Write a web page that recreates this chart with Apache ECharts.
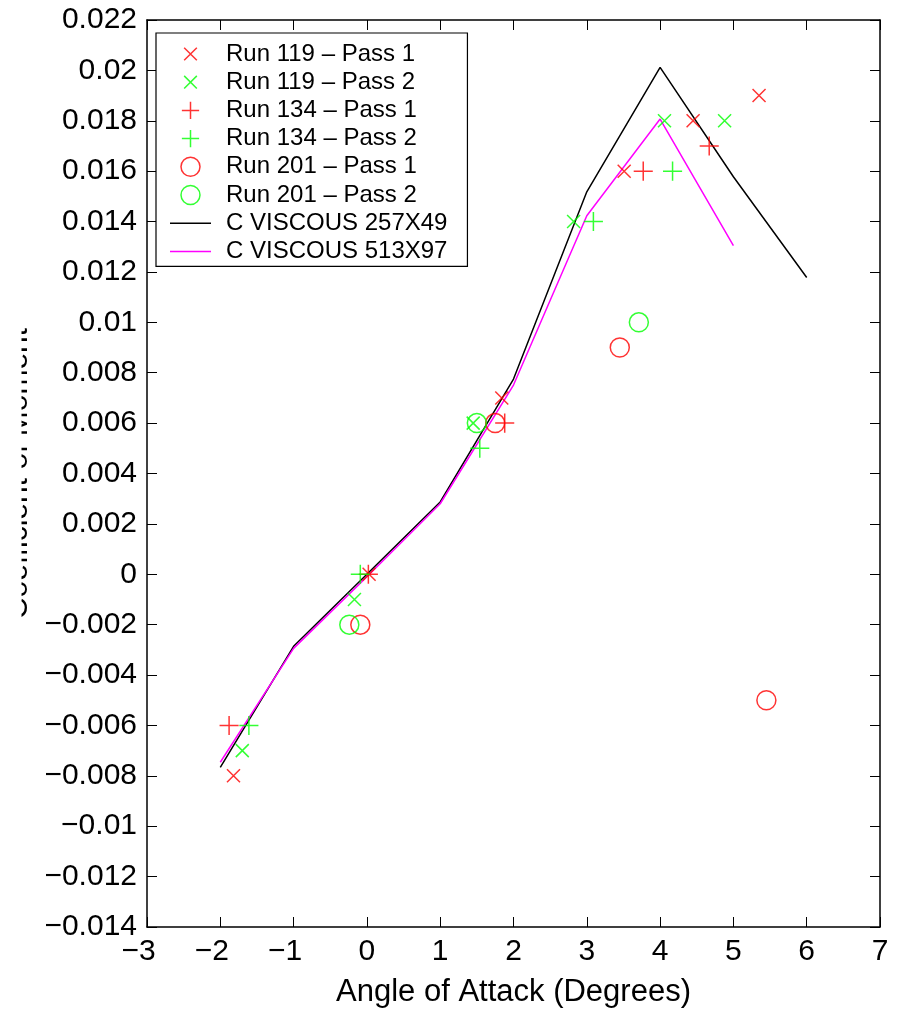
<!DOCTYPE html>
<html>
<head>
<meta charset="utf-8">
<script src="https://cdn.jsdelivr.net/npm/echarts@6/dist/echarts.min.js"></script>
<style>
  html, body { margin: 0; padding: 0; background: #fff; }
  #chart { width: 900px; height: 1009px; }
</style>
</head>
<body>
<div id="chart"></div>
<script>
// Measured moment coefficient vs angle of attack, [angle, Cm]
const run119Pass1 = [[-1.82, -0.008], [0.03, 0.0], [1.84, 0.007], [3.51, 0.016], [4.45, 0.018], [5.35, 0.019]];
const run119Pass2 = [[-1.70, -0.007], [-0.17, -0.001], [1.45, 0.006], [2.82, 0.014], [4.06, 0.018], [4.88, 0.018]];
const run134Pass1 = [[-1.88, -0.006], [0.02, 0.0], [1.88, 0.006], [3.77, 0.016], [4.67, 0.017]];
const run134Pass2 = [[-1.61, -0.006], [-0.09, 0.0], [1.54, 0.005], [3.09, 0.014], [4.17, 0.016]];
const run201Pass1 = [[-0.09, -0.002], [1.75, 0.006], [3.45, 0.009], [5.45, -0.005]];
const run201Pass2 = [[-0.24, -0.002], [1.50, 0.006], [3.71, 0.010]];

// Computed viscous results on two grids
const gridAngles = [-2, -1, 0, 1, 2, 3, 4, 5, 6];
const viscous257x49 = [-0.00766, -0.00286, 0.0, 0.00287, 0.00775, 0.01518, 0.02012, 0.01578, 0.01178];
const viscous513x97 = [-0.00746, -0.00294, -0.0001, 0.0028, 0.00751, 0.01423, 0.01807, 0.01304];

// Axis ranges and ticks
const xTicks = [-3, -2, -1, 0, 1, 2, 3, 4, 5, 6, 7];
const yTicks = [0.022, 0.02, 0.018, 0.016, 0.014, 0.012, 0.01, 0.008, 0.006, 0.004, 0.002, 0,
                -0.002, -0.004, -0.006, -0.008, -0.01, -0.012, -0.014];

const seriesNames = ['Run 119 \u2013 Pass 1', 'Run 119 \u2013 Pass 2', 'Run 134 \u2013 Pass 1', 'Run 134 \u2013 Pass 2',
                     'Run 201 \u2013 Pass 1', 'Run 201 \u2013 Pass 2', 'C VISCOUS 257X49', 'C VISCOUS 513X97'];

const FONT = "'Liberation Sans', Arial, Helvetica, sans-serif";
const RED = '#ff0000';
const GREEN = '#00ff00';
const MAGENTA = '#ff00ff';

// Stroked marker paths (extra moveTo points pad the bounding box)
const CROSS_X = 'path://M-0.25,-0.25M1.25,1.25M0,0L1,1M1,0L0,1';
const PLUS = 'path://M-0.05,-0.05M1.05,1.05M0,0.5L1,0.5M0.5,0L0.5,1';
const LINE_ICON = 'path://M0,0L41,0L41,1.5L0,1.5Z';

// Negative x labels: the minus sign hangs left of the centred digits
function fmtX(v) {
  return v < 0 ? '\u2212' + Math.abs(v) + '{pad|\u00a0}' : String(v);
}
function fmtY(v) {
  const s = Math.abs(v).toFixed(3).replace(/0+$/, '').replace(/\.$/, '');
  return v < -1e-9 ? '\u2212' + s : s;
}

function pairs(xs, ys) {
  return ys.map((y, i) => [xs[i], y]);
}

function scatter(name, data, symbol, size, color) {
  return {
    name: name,
    type: 'scatter',
    data: data,
    symbol: symbol,
    symbolSize: size,
    itemStyle: { color: 'none', borderColor: color, borderWidth: 1.5 },
    emphasis: { disabled: true },
    z: 3
  };
}

function lineSeries(name, ys, color) {
  return {
    name: name, type: 'line', data: pairs(gridAngles, ys),
    symbol: 'none', lineStyle: { color: color, width: 1.5 }, itemStyle: { color: color },
    emphasis: { disabled: true }, z: 2
  };
}

const axisLine = { show: true, onZero: false, lineStyle: { color: '#000', width: 1.5 } };
const axisTick = { show: true, inside: true, length: 10, lineStyle: { color: '#000', width: 1 } };

const chart = echarts.init(document.getElementById('chart'), null, { renderer: 'canvas' });

chart.setOption({
  animation: false,
  backgroundColor: '#fff',
  grid: { left: 147, right: 20, top: 20, bottom: 82, containLabel: false, outerBoundsMode: 'none' },
  xAxis: [
    {
      type: 'value', min: xTicks[0], max: xTicks[xTicks.length - 1], interval: 1,
      position: 'bottom',
      axisLine: axisLine, axisTick: axisTick, splitLine: { show: false },
      axisLabel: { color: '#000', fontFamily: FONT, fontSize: 30, margin: 10, formatter: fmtX,
                   showMinLabel: true, showMaxLabel: true,
                   rich: { pad: { width: 17, fontSize: 30, fontFamily: FONT } } },
      name: 'Angle of Attack (Degrees)', nameLocation: 'middle', nameGap: 50,
      nameTextStyle: { color: '#000', fontFamily: FONT, fontSize: 31 }
    },
    {
      type: 'value', min: xTicks[0], max: xTicks[xTicks.length - 1], interval: 1,
      position: 'top',
      axisLine: axisLine, axisTick: axisTick, splitLine: { show: false },
      axisLabel: { show: false }
    }
  ],
  yAxis: [
    {
      type: 'value', min: yTicks[yTicks.length - 1], max: yTicks[0], interval: 0.002,
      position: 'left',
      axisLine: axisLine, axisTick: axisTick, splitLine: { show: false },
      axisLabel: { color: '#000', fontFamily: FONT, fontSize: 30, margin: 10, formatter: fmtY,
                   showMinLabel: true, showMaxLabel: true },
      name: 'Coefficient of Moment', nameLocation: 'middle', nameRotate: 90, nameGap: 109,
      nameTextStyle: { color: '#000', fontFamily: FONT, fontSize: 30 }
    },
    {
      type: 'value', min: yTicks[yTicks.length - 1], max: yTicks[0], interval: 0.002,
      position: 'right',
      axisLine: axisLine, axisTick: axisTick, splitLine: { show: false },
      axisLabel: { show: false }
    }
  ],
  legend: {
    left: 156, top: 33, orient: 'vertical',
    backgroundColor: '#fff', borderColor: '#000', borderWidth: 1.2,
    padding: [9, 20, 3, 14],
    itemWidth: 41, itemHeight: 19, itemGap: 4.2,
    selectedMode: false,
    itemStyle: { borderWidth: 1.5 },
    textStyle: { color: '#000', fontFamily: FONT, fontSize: 24, lineHeight: 24, padding: [0, 0, 0, 10] },
    data: seriesNames.map((n, i) => i < 6 ? n : {
      name: n, icon: LINE_ICON,
      itemStyle: { color: i === 6 ? '#000' : MAGENTA, borderWidth: 0 }
    })
  },
  // plot window edge trims the left side of the rotated axis title
  graphic: [
    { type: 'rect', left: 0, top: 200, shape: { width: 21.5, height: 500 },
      style: { fill: '#fff' }, z: 100, silent: true }
  ],
  series: [
    scatter(seriesNames[0], run119Pass1, CROSS_X, 19.5, RED),
    scatter(seriesNames[1], run119Pass2, CROSS_X, 19.5, GREEN),
    scatter(seriesNames[2], run134Pass1, PLUS, 21, RED),
    scatter(seriesNames[3], run134Pass2, PLUS, 21, GREEN),
    scatter(seriesNames[4], run201Pass1, 'circle', 19, RED),
    scatter(seriesNames[5], run201Pass2, 'circle', 19, GREEN),
    lineSeries(seriesNames[6], viscous257x49, '#000'),
    lineSeries(seriesNames[7], viscous513x97, MAGENTA)
  ]
});
</script>
</body>
</html>
